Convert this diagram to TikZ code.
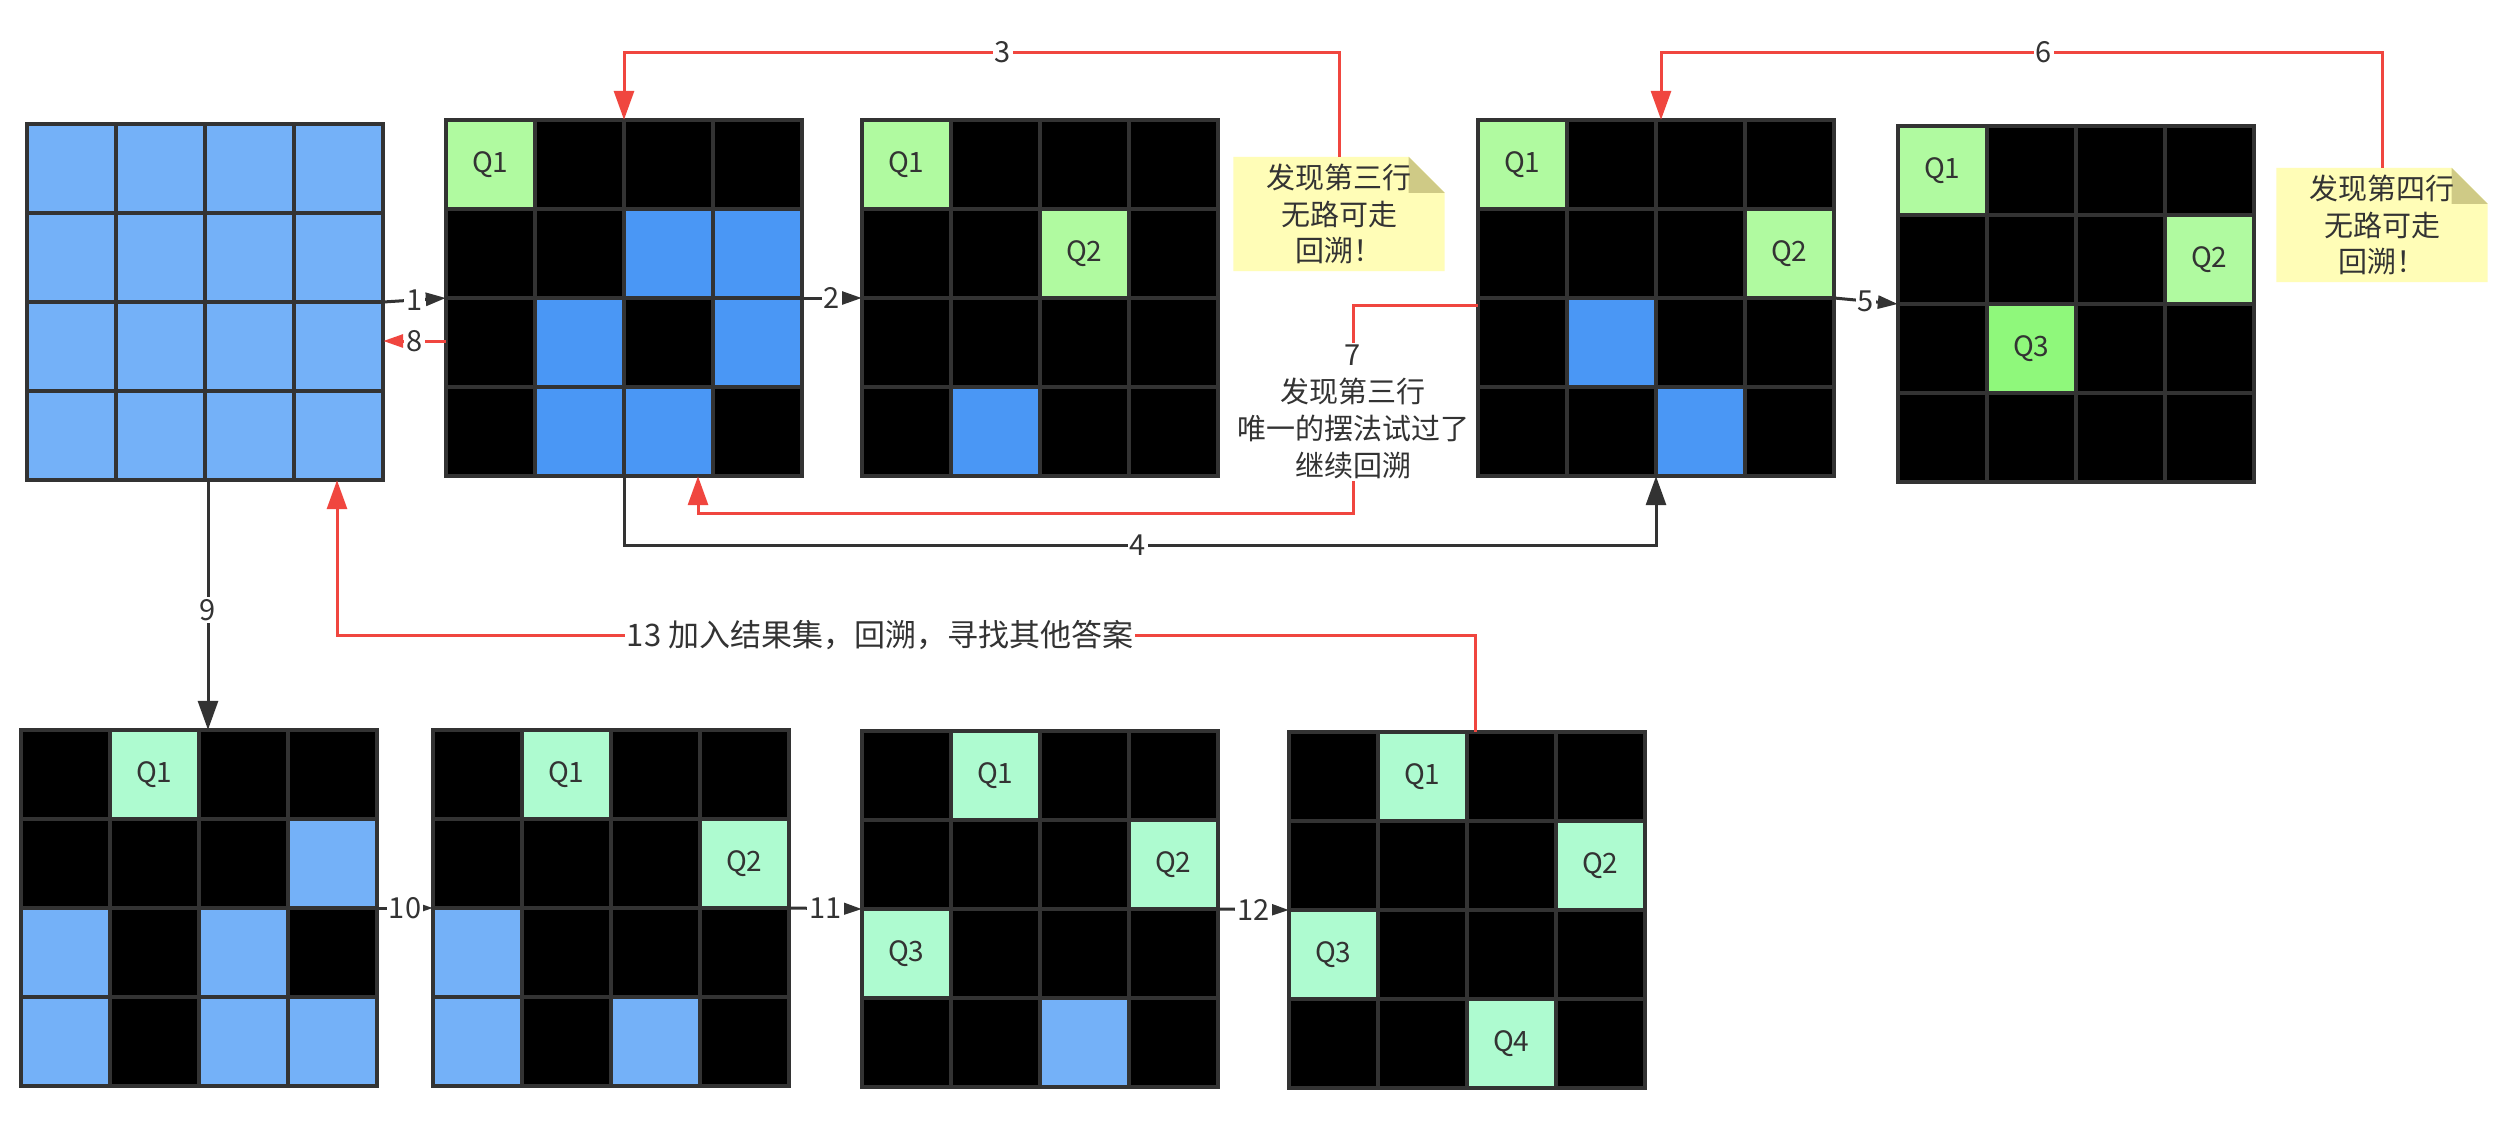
\documentclass[tikz,border=0pt]{standalone}
\usepackage{fontspec}
\setmainfont{Noto Sans CJK SC}
\usetikzlibrary{arrows.meta,calc}
\pgfdeclarelayer{background}
\pgfsetlayers{background,main}
\definecolor{gridgray}{HTML}{333333}
\definecolor{txt}{HTML}{333333}
\definecolor{qgreen}{HTML}{B0FAA0}
\definecolor{qmint}{HTML}{AEFBD0}
\definecolor{qbright}{HTML}{8FF87B}
\definecolor{blued}{HTML}{4A97F5}
\definecolor{bluel}{HTML}{74B1F8}
\definecolor{notey}{HTML}{FFFDB7}
\definecolor{notefold}{HTML}{CFCA86}
\definecolor{redc}{HTML}{F0463F}
\definecolor{linegray}{HTML}{333333}
\tikzset{
  gridline/.style={draw=gridgray,line width=4pt,line cap=rect},
  cellq/.style={minimum width=89pt,minimum height=89pt,inner sep=0pt,font=\fontsize{28}{34}\selectfont,text=txt},
  boardbox/.style={minimum width=356pt,minimum height=356pt,inner sep=0pt},
  conn/.style={draw=linegray,line width=3pt},
  redconn/.style={draw=redc,line width=3pt},
  smalltip/.style={-{Triangle[length=20pt,width=13pt]}},
  bigtip/.style={-{Triangle[length=29pt,width=20pt]}},
  lbl/.style={fill=white,inner sep=2pt,font=\fontsize{29}{36}\selectfont,text=txt},
  notetext/.style={minimum width=211pt,minimum height=114pt,align=center,inner sep=0pt,font=\fontsize{29}{36.5}\selectfont,text=txt},
  multilbl/.style={fill=white,align=center,inner sep=2pt,font=\fontsize{29}{37}\selectfont,text=txt}
}
\newcommand{\qboard}[4]{\node[boardbox,fill=#4] (#1) at (#2+178,#3+178) {};}
\newcommand{\qcell}[6]{\node[cellq,fill=#5] (#2) at ($(#1.north west)+({(#4-0.5)*89},{(#3-0.5)*89})$) {#6};}
\newcommand{\qlines}[1]{%
  \foreach \k in {0,...,4}{%
    \draw[gridline] ($(#1.north west)+(\k*89,0)$) -- ($(#1.north west)+(\k*89,356)$);
    \draw[gridline] ($(#1.north west)+(0,\k*89)$) -- ($(#1.north west)+(356,\k*89)$);
  }}
\newcommand{\qnote}[1]{%
  \fill[notey] (#1.north west) -- ([xshift=-36pt]#1.north east) -- ([yshift=-36pt]#1.north east) -- (#1.south east) -- (#1.south west) -- cycle;
  \fill[notefold] ([xshift=-36pt]#1.north east) -- ([yshift=-36pt]#1.north east) -- ([xshift=-36pt,yshift=-36pt]#1.north east) -- cycle;}
\begin{document}
\begin{tikzpicture}[x=1pt,y=-1pt]
\begin{pgfonlayer}{background}
\fill[white] (0,0) rectangle (2516,1136);
\end{pgfonlayer}
\useasboundingbox (0,0) rectangle (2516,1136);

% ---------- top row ----------
\qboard{g0}{27}{124}{bluel}
\qlines{g0}

\qboard{g1}{446}{120}{black}
\qcell{g1}{g1q1}{1}{1}{qgreen}{Q1}
\qcell{g1}{g1a}{2}{3}{blued}{}
\qcell{g1}{g1b}{2}{4}{blued}{}
\qcell{g1}{g1c}{3}{2}{blued}{}
\qcell{g1}{g1d}{3}{4}{blued}{}
\qcell{g1}{g1e}{4}{2}{blued}{}
\qcell{g1}{g1f}{4}{3}{blued}{}
\qlines{g1}

\qboard{g2}{862}{120}{black}
\qcell{g2}{g2q1}{1}{1}{qgreen}{Q1}
\qcell{g2}{g2q2}{2}{3}{qgreen}{Q2}
\qcell{g2}{g2a}{4}{2}{blued}{}
\qlines{g2}

\qboard{g3}{1478}{120}{black}
\qcell{g3}{g3q1}{1}{1}{qgreen}{Q1}
\qcell{g3}{g3q2}{2}{4}{qgreen}{Q2}
\qcell{g3}{g3a}{3}{2}{blued}{}
\qcell{g3}{g3b}{4}{3}{blued}{}
\qlines{g3}

\qboard{g4}{1898}{126}{black}
\qcell{g4}{g4q1}{1}{1}{qgreen}{Q1}
\qcell{g4}{g4q2}{2}{4}{qgreen}{Q2}
\qcell{g4}{g4q3}{3}{2}{qbright}{Q3}
\qlines{g4}

% ---------- bottom row ----------
\qboard{g5}{21}{730}{black}
\qcell{g5}{g5q1}{1}{2}{qmint}{Q1}
\qcell{g5}{g5a}{2}{4}{bluel}{}
\qcell{g5}{g5b}{3}{1}{bluel}{}
\qcell{g5}{g5c}{3}{3}{bluel}{}
\qcell{g5}{g5d}{4}{1}{bluel}{}
\qcell{g5}{g5e}{4}{3}{bluel}{}
\qcell{g5}{g5f}{4}{4}{bluel}{}
\qlines{g5}

\qboard{g6}{433}{730}{black}
\qcell{g6}{g6q1}{1}{2}{qmint}{Q1}
\qcell{g6}{g6q2}{2}{4}{qmint}{Q2}
\qcell{g6}{g6a}{3}{1}{bluel}{}
\qcell{g6}{g6b}{4}{1}{bluel}{}
\qcell{g6}{g6c}{4}{3}{bluel}{}
\qlines{g6}

\qboard{g7}{862}{731}{black}
\qcell{g7}{g7q1}{1}{2}{qmint}{Q1}
\qcell{g7}{g7q2}{2}{4}{qmint}{Q2}
\qcell{g7}{g7q3}{3}{1}{qmint}{Q3}
\qcell{g7}{g7a}{4}{3}{bluel}{}
\qlines{g7}

\qboard{g8}{1289}{732}{black}
\qcell{g8}{g8q1}{1}{2}{qmint}{Q1}
\qcell{g8}{g8q2}{2}{4}{qmint}{Q2}
\qcell{g8}{g8q3}{3}{1}{qmint}{Q3}
\qcell{g8}{g8q4}{4}{3}{qmint}{Q4}
\qlines{g8}

% ---------- notes ----------
\node[notetext] (n1) at (1339,214) {发现第三行\\无路可走\\回溯！};
\node[notetext] (n2) at (2382,225) {发现第四行\\无路可走\\回溯！};
\begin{pgfonlayer}{background}
\qnote{n1}
\qnote{n2}
\end{pgfonlayer}

% ---------- connectors ----------
\coordinate (c3) at (1003,52);
\coordinate (c6) at (2044,52);
\coordinate (c4) at (1138,545);
\coordinate (c13) at (880,635);

% 1 and 8
\draw[conn,smalltip] (g0.east) -- (g1.west) node[lbl,pos=0.5] (l1) {1};
\draw[redconn,smalltip] ([yshift=-43pt]g1.west) -- ([yshift=-39pt]g0.east) node[lbl,pos=0.5] (l8) {8};
% 2
\draw[conn,smalltip] (g1.east) -- (g2.west) node[lbl,pos=0.5] (l2) {2};
% 3
\draw[redconn,bigtip] (n1.north) |- (c3) -| (g1.north);
\node[lbl] (l3) at (c3) {3};
% 4
\draw[conn,bigtip] (g1.south) |- (c4) -| (g3.south);
\node[lbl] (l4) at (c4) {4};
% 5
\draw[conn,smalltip] (g3.east) -- (g4.west) node[lbl,pos=0.5] (l5) {5};
% 6
\draw[redconn,bigtip] (n2.north) |- (c6) -| ([xshift=5pt]g3.north);
\node[lbl] (l6) at (c6) {6};
% 7
\node[multilbl] (l7) at (1353,412) {7\\发现第三行\\唯一的摆法试过了\\继续回溯};
\draw[redconn] ([yshift=-7pt]g3.west) -| (l7.north);
\draw[redconn,bigtip] (l7.south) |- ($([xshift=74pt]g1.south)+(0,37)$) -- ([xshift=74pt]g1.south);
% 9
\draw[conn,bigtip] ([xshift=3pt]g0.south) -- ([xshift=3pt]g0.south |- g5.north) node[lbl,pos=0.52] (l9) {9};
% 10 11 12
\draw[conn,smalltip] (g5.east) -- (g6.west) node[lbl,pos=0.5] (l10) {10};
\draw[conn,smalltip] (g6.east) -- (g7.west) node[lbl,pos=0.5] (l11) {11};
\draw[conn,smalltip] (g7.east) -- (g8.west) node[lbl,pos=0.5] (l12) {12};
% 13
\draw[redconn,bigtip] ([xshift=8pt]g8.north) |- (c13) -| ([xshift=132pt]g0.south);
\node[lbl,font=\fontsize{31}{36}\selectfont] (l13) at (c13) {13 加入结果集，回溯，寻找其他答案};
\end{tikzpicture}
\end{document}
